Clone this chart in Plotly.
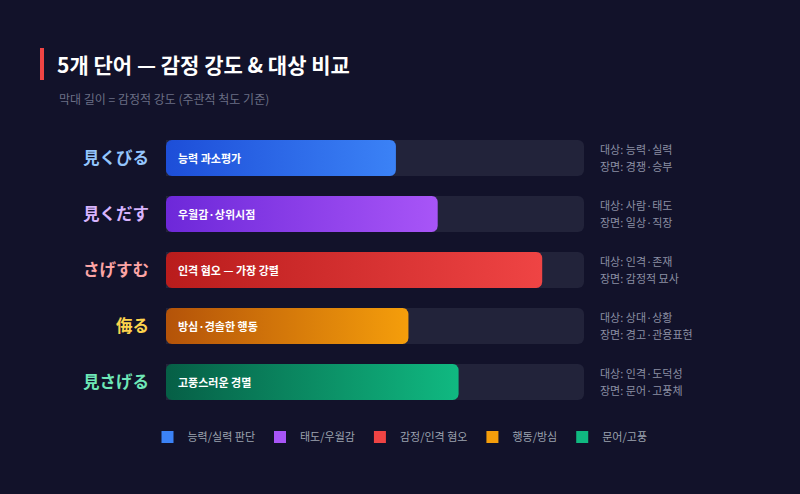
import numpy as np
import plotly.graph_objects as go

# ---- data ----
words = ["見くびる", "見くだす", "さげすむ", "侮る", "見さげる"]
intensity = [55, 65, 90, 58, 70]
bar_texts = ["능력 과소평가", "우월감·상위시점", "인격 혐오 — 가장 강렬", "방심·경솔한 행동", "고풍스러운 경멸"]
targets = ["대상: 능력·실력", "대상: 사람·태도", "대상: 인격·존재", "대상: 상대·상황", "대상: 인격·도덕성"]
scenes = ["장면: 경쟁·승부", "장면: 일상·직장", "장면: 감정적 묘사", "장면: 경고·관용표현", "장면: 문어·고풍체"]
categories = ["능력/실력 판단", "태도/우월감", "감정/인격 혐오", "행동/방심", "문어/고풍"]
grad_start = ["#1d4ed8", "#6d28d9", "#b91c1c", "#b45309", "#065f46"]
grad_end = ["#3b82f6", "#a855f7", "#ef4444", "#f59e0b", "#10b981"]
legend_colors = ["#3b82f6", "#a855f7", "#ef4444", "#f59e0b", "#10b981"]
label_colors = ["#93c5fd", "#d8b4fe", "#fca5a5", "#fcd34d", "#6ee7b7"]
scale_max = 100

BG = "#12122a"
TRACK = "#22233a"
KR = "Noto Sans CJK KR"
JP = "Noto Sans CJK JP"

W, H = 800, 494
ML, MR, MT, MB = 20, 20, 130, 84
paper_w = W - ML - MR
AX0, AX1 = 166, 584                 # x-axis pixel extent
plot_w = AX1 - AX0
plot_h = H - MT - MB
n = len(words)
ypos = list(range(n))
bar_w = 0.643
px_x = plot_w / scale_max
px_y = plot_h / n
radius = 6


def px_to_paper_x(px):
    return (px - ML) / paper_w


def px_to_paper_y(py):
    return (H - MB - py) / plot_h


def rounded_rect(x0, x1, yc, half, r_px):
    rx = r_px / px_x
    ry = r_px / px_y
    y0, y1 = yc - half, yc + half
    pts_x, pts_y = [], []
    corners = [
        (x1 - rx, y0 + ry, -90, 0),
        (x1 - rx, y1 - ry, 0, 90),
        (x0 + rx, y1 - ry, 90, 180),
        (x0 + rx, y0 + ry, 180, 270),
    ]
    for cx, cy, a0, a1 in corners:
        for a in np.linspace(np.radians(a0), np.radians(a1), 8):
            pts_x.append(cx + rx * np.cos(a))
            pts_y.append(cy + ry * np.sin(a))
    pts_x.append(pts_x[0])
    pts_y.append(pts_y[0])
    return pts_x, pts_y


fig = go.Figure()

# track bars
fig.add_trace(go.Bar(
    x=[scale_max] * n, y=ypos, orientation="h", width=bar_w,
    marker=dict(color=TRACK, cornerradius=radius, line=dict(width=0)),
    showlegend=False, hoverinfo="skip",
))

# gradient value bars
for i in range(n):
    xs, ys = rounded_rect(0, intensity[i], ypos[i], bar_w / 2, radius)
    fig.add_trace(go.Scatter(
        x=xs, y=ys, mode="lines", fill="toself",
        line=dict(width=0, color=grad_end[i]),
        fillgradient=dict(type="horizontal",
                          colorscale=[[0, grad_start[i]], [1, grad_end[i]]]),
        showlegend=False, hoverinfo="skip",
    ))

# legend entries
for c, col in zip(categories, legend_colors):
    fig.add_trace(go.Scatter(
        x=[None], y=[None], mode="markers", name=c,
        marker=dict(symbol="square", size=12, color=col),
    ))

annotations = []
for i in range(n):
    annotations.append(dict(
        x=0, y=ypos[i], xref="x", yref="y", text=f"<b>{bar_texts[i]}</b>",
        showarrow=False, xanchor="left", yanchor="middle", xshift=10,
        font=dict(family=KR, size=11, color="#ffffff"),
    ))
    annotations.append(dict(
        x=scale_max, y=ypos[i], xref="x", yref="y", text=targets[i],
        showarrow=False, xanchor="left", yanchor="middle", xshift=14, yshift=9,
        font=dict(family=KR, size=11, color="#8b8fa3"),
    ))
    annotations.append(dict(
        x=scale_max, y=ypos[i], xref="x", yref="y", text=scenes[i],
        showarrow=False, xanchor="left", yanchor="middle", xshift=14, yshift=-8,
        font=dict(family=KR, size=11, color="#8b8fa3"),
    ))

annotations.append(dict(
    x=px_to_paper_x(57), y=px_to_paper_y(99), xref="paper", yref="paper",
    text="막대 길이 = 감정적 강도 (주관적 척도 기준)", showarrow=False,
    xanchor="left", yanchor="middle",
    font=dict(family=KR, size=12, color="#6b6f85"),
))

ticktext = [f"<span style='color:{c}'><b>{w}</b></span>" for w, c in zip(words, label_colors)]

fig.update_layout(
    width=W, height=H,
    margin=dict(l=ML, r=MR, t=MT, b=MB),
    paper_bgcolor=BG, plot_bgcolor=BG,
    barmode="overlay",
    title=dict(
        text="<b>5개 단어 — 감정 강도 & 대상 비교</b>",
        x=57 / W, y=1 - 66 / H, xref="container", yref="container",
        xanchor="left", yanchor="middle",
        font=dict(family=KR, size=21, color="#ffffff"),
    ),
    xaxis=dict(range=[0, scale_max], visible=False, fixedrange=True,
               domain=[px_to_paper_x(AX0), px_to_paper_x(AX1)]),
    yaxis=dict(
        range=[n - 0.5, -0.5], tickvals=ypos, ticktext=ticktext,
        showgrid=False, zeroline=False, showline=False, ticks="",
        ticklabelstandoff=16, tickfont=dict(family=JP, size=16.5),
        fixedrange=True,
    ),
    legend=dict(
        orientation="h", xref="paper", yref="paper",
        x=px_to_paper_x(400), y=px_to_paper_y(437), xanchor="center", yanchor="middle",
        font=dict(family=KR, size=11, color="#9ca3af"),
        bgcolor="rgba(0,0,0,0)", itemclick=False, itemdoubleclick=False,
        itemwidth=30, tracegroupgap=0,
    ),
    shapes=[dict(
        type="rect", xref="paper", yref="paper",
        x0=px_to_paper_x(40), x1=px_to_paper_x(44),
        y0=px_to_paper_y(80), y1=px_to_paper_y(48),
        fillcolor="#ef4444", line=dict(width=0),
    )],
    annotations=annotations,
)

fig.write_html("out.html", config={"displayModeBar": False})
